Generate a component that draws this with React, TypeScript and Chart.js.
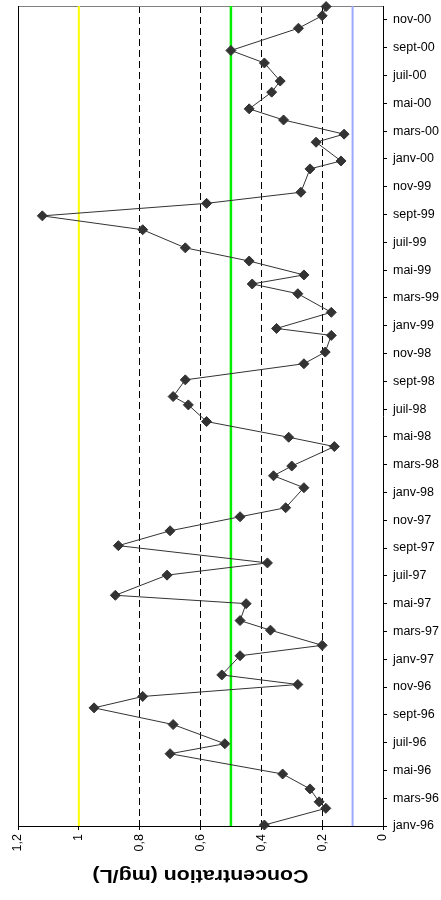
import React, { useEffect, useRef } from 'react';
import { Chart, registerables } from 'chart.js';

Chart.register(...registerables);

// Date axis: months counted from janv-96
const monthTicks = [0, 2, 4, 6, 8, 10, 12, 14, 16, 18, 20, 22, 24, 26, 28, 30, 32, 34, 36, 38, 40, 42, 44, 46, 48, 50, 52, 54, 56, 58];
const monthLabels = [
  'janv-96', 'mars-96', 'mai-96', 'juil-96', 'sept-96', 'nov-96',
  'janv-97', 'mars-97', 'mai-97', 'juil-97', 'sept-97', 'nov-97',
  'janv-98', 'mars-98', 'mai-98', 'juil-98', 'sept-98', 'nov-98',
  'janv-99', 'mars-99', 'mai-99', 'juil-99', 'sept-99', 'nov-99',
  'janv-00', 'mars-00', 'mai-00', 'juil-00', 'sept-00', 'nov-00',
];
const monthRange = [0, 59];

// Sampling dates (months since janv-96) and concentrations (mg/L)
const sampleMonths = [
  0.07, 1.27, 1.74, 2.67, 3.74, 5.2, 5.92, 7.3, 8.5, 9.32,
  10.18, 10.87, 12.25, 13.0, 14.09, 14.78, 16.0, 16.6, 18.05, 18.93,
  20.17, 21.24, 22.25, 22.9, 24.34, 25.2, 25.9, 27.3, 27.97, 29.1,
  30.3, 30.9, 32.1, 33.26, 34.1, 35.3, 35.8, 36.96, 38.3, 39.0,
  39.65, 40.65, 41.6, 42.9, 43.9, 44.8, 45.6, 47.28, 47.85, 49.2,
  49.78, 50.8, 51.6, 52.8, 53.6, 54.9, 55.8, 57.4, 58.3, 58.96,
];
const concentrations = [
  0.39, 0.188, 0.21, 0.24, 0.33, 0.7, 0.52, 0.69, 0.95, 0.79,
  0.28, 0.53, 0.47, 0.2, 0.37, 0.47, 0.45, 0.88, 0.71, 0.38,
  0.87, 0.7, 0.47, 0.32, 0.26, 0.36, 0.3, 0.16, 0.31, 0.58,
  0.64, 0.69, 0.65, 0.26, 0.19, 0.17, 0.35, 0.17, 0.28, 0.43,
  0.26, 0.44, 0.65, 0.79, 1.12, 0.58, 0.27, 0.24, 0.138, 0.22,
  0.128, 0.327, 0.44, 0.366, 0.338, 0.39, 0.5, 0.278, 0.2, 0.187,
];

// Concentration axis
const xTickValues = [0, 0.2, 0.4, 0.6, 0.8, 1, 1.2];
const xTickLabels = ['0', '0,2', '0,4', '0,6', '0,8', '1', '1,2'];
const dashedGridValues = [0.2, 0.4, 0.6, 0.8, 1];
const axisTitle = 'Concentration (mg/L)';

// Reference limits
const limitYellow = 1.0;
const limitGreen = 0.5;
const limitBlue = 0.1;

const FONT = 'Arial, "Liberation Sans", sans-serif';

export default function App() {
  const ref = useRef<HTMLCanvasElement | null>(null);

  useEffect(() => {
    document.body.style.margin = '0';
    const canvas = ref.current;
    if (!canvas) return;

    const series = sampleMonths.map((m, i) => ({ x: concentrations[i], y: m }));
    const vline = (v: number) => [
      { x: v, y: monthRange[0] },
      { x: v, y: monthRange[1] },
    ];

    const framePlugin = {
      id: 'frame',
      beforeDatasetsDraw(chart: any) {
        const { ctx, chartArea: a } = chart;
        ctx.save();
        ctx.lineWidth = 1;
        ctx.strokeStyle = '#808080';
        ctx.beginPath();
        ctx.moveTo(a.left, a.top + 0.5);
        ctx.lineTo(a.right, a.top + 0.5);
        ctx.stroke();
        ctx.strokeStyle = '#000';
        ctx.beginPath();
        ctx.moveTo(a.left + 0.5, a.top);
        ctx.lineTo(a.left + 0.5, a.bottom);
        ctx.stroke();
        ctx.restore();
      },
      afterDraw(chart: any) {
        const { ctx, chartArea: a } = chart;
        ctx.save();
        ctx.font = 'bold 18px ' + FONT;
        const w = ctx.measureText(axisTitle).width;
        ctx.translate((a.left + a.right) / 2, 875);
        ctx.rotate(Math.PI);
        ctx.scale(216 / w, 1);
        ctx.fillStyle = '#000';
        ctx.textAlign = 'center';
        ctx.textBaseline = 'middle';
        ctx.fillText(axisTitle, 0, 0);
        ctx.restore();
      },
    };

    const chart = new Chart(canvas, {
      type: 'scatter',
      data: {
        datasets: [
          {
            data: series,
            showLine: true,
            borderColor: '#333333',
            borderWidth: 1,
            pointStyle: 'rectRot',
            pointRadius: 5,
            pointBackgroundColor: '#333333',
            pointBorderColor: '#333333',
            pointBorderWidth: 1,
            clip: 8,
          },
          {
            data: vline(limitGreen),
            showLine: true,
            borderColor: '#00ee00',
            borderWidth: 2.5,
            pointRadius: 0,
          },
          {
            data: vline(limitYellow),
            showLine: true,
            borderColor: '#ffff00',
            borderWidth: 2,
            pointRadius: 0,
          },
          {
            data: vline(limitBlue),
            showLine: true,
            borderColor: '#99aaff',
            borderWidth: 2,
            pointRadius: 0,
          },
        ],
      },
      options: {
        responsive: false,
        animation: false,
        events: [],
        layout: { padding: { left: 18, top: 1, right: 0, bottom: 0 } },
        plugins: {
          legend: { display: false },
          tooltip: { enabled: false },
          title: { display: false },
        },
        scales: {
          x: {
            type: 'linear',
            position: 'bottom',
            reverse: true,
            min: 0,
            max: 1.2,
            afterBuildTicks: (scale: any) => {
              scale.ticks = xTickValues.map((v) => ({ value: v }));
            },
            afterFit: (scale: any) => {
              scale.height = 74;
              scale.paddingLeft = 0;
              scale.paddingRight = 0;
            },
            ticks: {
              autoSkip: false,
              minRotation: 90,
              maxRotation: 90,
              padding: 4,
              color: '#000',
              font: { family: FONT, size: 12.5 },
              callback: (value: any) => {
                const i = xTickValues.findIndex((v) => Math.abs(v - value) < 1e-6);
                return i >= 0 ? xTickLabels[i] : '';
              },
            },
            grid: {
              drawOnChartArea: true,
              drawTicks: true,
              tickLength: 4,
              tickColor: '#000',
              lineWidth: 1,
              color: (c: any) => {
                const v = c.tick ? c.tick.value : null;
                return v !== null && dashedGridValues.some((d) => Math.abs(d - v) < 1e-6) ? '#000' : 'rgba(0,0,0,0)';
              },
            },
            border: { display: true, color: '#000', width: 1, dash: [7, 4] },
          },
          y: {
            type: 'linear',
            position: 'right',
            min: monthRange[0],
            max: monthRange[1],
            afterBuildTicks: (scale: any) => {
              scale.ticks = monthTicks.map((v) => ({ value: v }));
            },
            afterFit: (scale: any) => {
              scale.width = 58;
              scale.paddingTop = 0;
              scale.paddingBottom = 0;
            },
            ticks: {
              autoSkip: false,
              padding: 6,
              color: '#000',
              font: { family: FONT, size: 12.5 },
              callback: (value: any) => {
                const i = monthTicks.indexOf(value);
                return i >= 0 ? monthLabels[i] : '';
              },
            },
            grid: {
              drawOnChartArea: false,
              drawTicks: true,
              tickLength: 4,
              tickColor: '#000',
            },
            border: { display: true, color: '#000', width: 1 },
          },
        },
      },
      plugins: [framePlugin],
    } as any);

    return () => chart.destroy();
  }, []);

  return (
    <div style={{ width: 441, height: 900 }}>
      <canvas ref={ref} width={441} height={900} style={{ display: 'block' }} />
    </div>
  );
}
